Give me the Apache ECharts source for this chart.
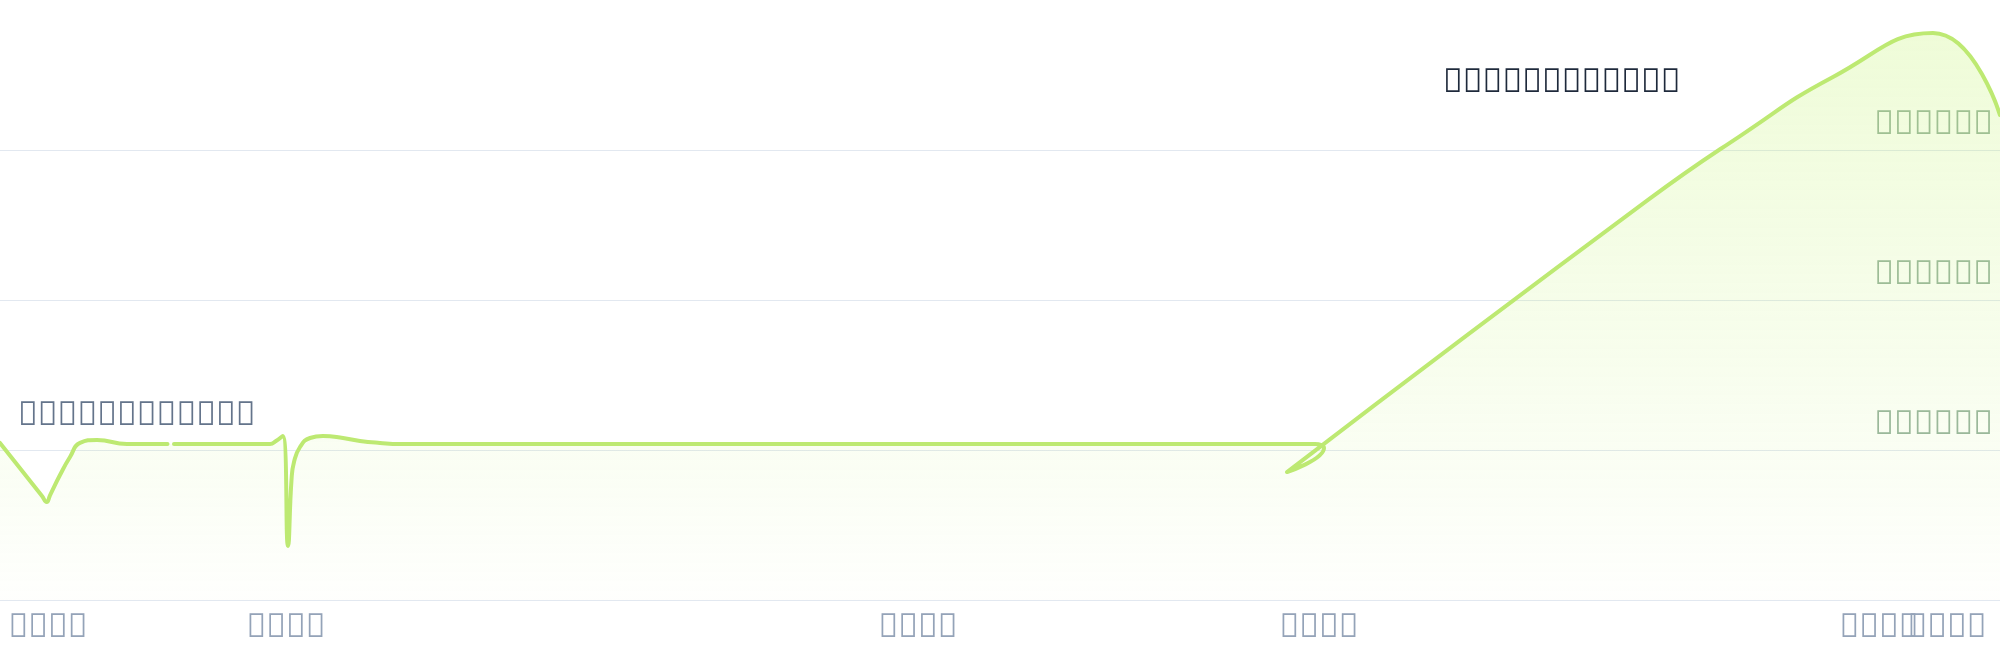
<!DOCTYPE html>
<html><head><meta charset="utf-8">
<script src="https://cdn.jsdelivr.net/npm/echarts@6/dist/echarts.min.js"></script>
<style>html,body{margin:0;padding:0;background:#fff}#c{width:2000px;height:660px}</style>
</head><body><div id="c"></div>
<script>
// x positions (days) and values of the series; null = missing point
const xValues = [0, 8.4, 9.34, 10, 12, 14, 16, 19.4, 25.4, 30, 33.5, 34.2, 34.8, 40, 48, 54, 55.2, 56.54, 57.6, 58.3, 58.8, 60, 62, 64.6, 68.6, 72, 76, 80, 100, 140, 183.6, 220, 263, 264.8, 257.4, 329.6, 348, 366.6, 386.6, 400];
const yValues = [104.7, 69.3, 65.3, 69.8, 83.3, 95.3, 104.7, 106.7, 104, 104, 104, null, 104, 104, 104, 104, 106, 109.3, 36, 80, 92, 102, 108, 109.3, 108, 106, 104.7, 104, 104, 104, 104, 104, 104, 101.3, 85.3, 266.7, 309.3, 348.7, 378, 323.3];
const xLabelValues = [9.6, 57.2, 183.6, 263.8, 375.8, 389.4];
const xLabels = ['\uE000\uE001\uE002\uE003', '\uE004\uE005\uE006\uE007', '\uE008\uE009\uE00A\uE00B', '\uE00C\uE00D\uE00E\uE00F', '\uE010\uE011\uE012\uE013', '\uE014\uE015\uE016\uE017'];
const yTickValues = [100, 200, 300];
const yLabels = ['\uE020\uE021\uE022\uE023\uE024\uE025', '\uE026\uE027\uE028\uE029\uE02A\uE02B', '\uE02C\uE02D\uE02E\uE02F\uE030\uE031'];
const titleText = '\uE040\uE041\uE042\uE043\uE044\uE045\uE046\uE047\uE048\uE049\uE04A\uE04B';
const noteText = '\uE050\uE051\uE052\uE053\uE054\uE055\uE056\uE057\uE058\uE059\uE05A\uE05B';

const FONT = 'Noto Sans';
const seriesData = xValues.map((x, i) => [x, yValues[i]]);
const labelFor = v => { const i = xLabelValues.findIndex(t => Math.abs(t - v) < 1e-6); return i >= 0 ? xLabels[i] : ''; };
const areaColor = new echarts.graphic.LinearGradient(0, 0, 0, 1, [
  { offset: 0, color: 'rgba(190,242,100,0.36)' },
  { offset: 1, color: 'rgba(190,242,100,0.02)' }
]);
const xLabelStyle = { color: '#94a3b8', fontSize: 33, margin: 11, fontFamily: FONT, formatter: labelFor, hideOverlap: false };
const chart = echarts.init(document.getElementById('c'));
chart.setOption({
  animation: false,
  title: [
    { text: titleText, left: 1438, top: 61, textStyle: { fontSize: 33, fontWeight: 'normal', color: '#1e293b', fontFamily: FONT } },
    { text: noteText, left: 13, top: 394, textStyle: { fontSize: 33, fontWeight: 'normal', color: '#64748b', fontFamily: FONT } }
  ],
  grid: { left: 0, right: 0, top: 0, bottom: 60, containLabel: false, outerBoundsMode: 'none' },
  xAxis: [
    {
      type: 'value', min: 0, max: 400, position: 'bottom',
      axisLine: { lineStyle: { color: '#e2e8f0', width: 1 } },
      axisTick: { show: false }, splitLine: { show: false },
      axisLabel: Object.assign({ customValues: xLabelValues.slice(0, 5) }, xLabelStyle)
    },
    {
      type: 'value', min: 0, max: 400, position: 'bottom', offset: 0,
      axisLine: { show: false }, axisTick: { show: false }, splitLine: { show: false },
      axisLabel: Object.assign({ customValues: xLabelValues.slice(5) }, xLabelStyle)
    }
  ],
  yAxis: {
    type: 'value', min: 0, max: 400, interval: 100, position: 'right',
    axisLine: { show: false }, axisTick: { show: false },
    splitLine: { showMaxLine: false, lineStyle: { color: '#e2e8f0', width: 1 } },
    axisLabel: {
      inside: true, showMinLabel: false, showMaxLabel: false,
      formatter: v => { const i = yTickValues.indexOf(v); return i >= 0 ? yLabels[i] : ''; },
      color: '#97b39f', fontSize: 33, margin: 7, verticalAlign: 'bottom', padding: [0, 0, 9, 0], fontFamily: FONT
    }
  },
  series: [
    {
      type: 'line', xAxisIndex: 0, data: seriesData, smooth: true, showSymbol: false, connectNulls: true,
      lineStyle: { width: 0, opacity: 0 }, areaStyle: { color: areaColor }, silent: true, z: 1
    },
    {
      type: 'line', xAxisIndex: 0, data: seriesData, smooth: true, showSymbol: false, connectNulls: false,
      lineStyle: { color: '#bde972', width: 4, cap: 'round', join: 'round' },
      itemStyle: { color: '#bde972' }, z: 2
    }
  ]
});
</script></body></html>
